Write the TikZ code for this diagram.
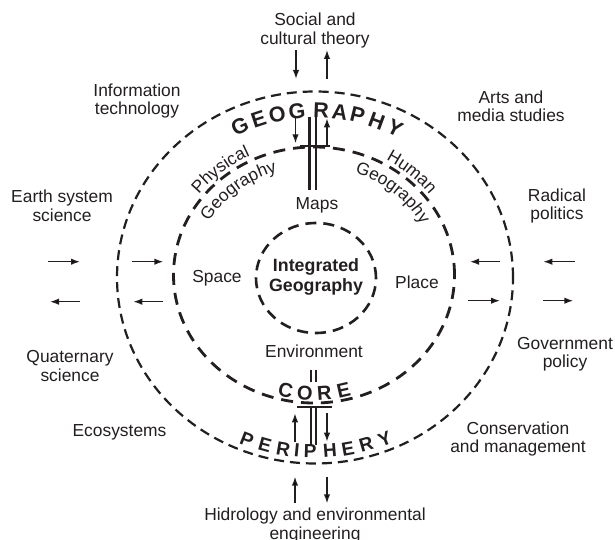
\documentclass[tikz,border=0pt]{standalone}
\usepackage{fontspec}
\setmainfont{Liberation Sans}
\usetikzlibrary{calc,arrows.meta,decorations.text}
\definecolor{ink}{HTML}{231F20}
\begin{document}
\begin{tikzpicture}[x=1pt,y=1pt,
  every node/.style={inner sep=0pt},
  lbl/.style={font=\fontsize{17.4}{18.5}\selectfont, text=ink, align=center},
  hub/.style={font=\bfseries\fontsize{17.8}{20}\selectfont, text=ink, align=center},
  ringletter/.style={font=\bfseries\fontsize{#1}{#1}\selectfont, text=ink},
  outerring/.style={draw=ink, line width=2.2pt, dash pattern=on 10pt off 6pt},
  corering/.style={draw=ink, line width=2.8pt, dash pattern=on 12pt off 8pt},
  hubring/.style={draw=ink, line width=2.6pt, dash pattern=on 11pt off 7pt},
  flow/.style={draw=ink, line width=1.4pt, -{Latex[length=9pt,width=6.5pt]}},
  link/.style={draw=ink, line width=2.4pt},
  bar/.style={draw=ink, line width=2.8pt},
]
\useasboundingbox[fill=white] (0,0) rectangle (615,540);

% centres of the three rings
\coordinate (Co) at (315,262.5);
\coordinate (Ci) at (314,265);
\coordinate (Cc) at (316,262);

% rings
\path[outerring] (Co) ellipse [x radius=198pt, y radius=186pt];
\path[corering]  (Ci) ellipse [x radius=140.5pt, y radius=128pt];
\path[hubring]   (Cc) ellipse [x radius=60pt, y radius=55pt];

% lettering on the rings
\foreach \a/\l [count=\i] in {114.8/G,108.4/E,102.2/O,95.8/G,88/R,82/A,76.2/P,69.8/H,63.4/Y}
  \node[ringletter=21.5, rotate=\a-90] (geo\i) at ($(Co)+(\a:179pt and 167pt)$) {\l};
\foreach \a/\l [count=\i] in {248.5/P,254.4/E,260.2/R,264.4/I,268.5/P,274.6/H,280.2/E,286/R,292/Y}
  \node[ringletter=19, rotate=\a+90] (per\i) at ($(Co)+(\a:186pt and 174pt)$) {\l};
\foreach \a/\l [count=\i] in {257.5/C,266/O,274.5/R,283/E}
  \node[ringletter=20, rotate=\a+90] (core\i) at ($(Ci)+(\a:131pt and 118.5pt)$) {\l};

% curved sub-discipline labels straddling the core ring
\path[decorate, decoration={text along path, text align=center, text color=ink,
    text={|\fontsize{17.4}{18}\selectfont|Physical}}]
  ($(Ci)+(165:145pt and 132.5pt)$) arc[start angle=165, end angle=95, x radius=145pt, y radius=132.5pt];
\path[decorate, decoration={text along path, text align=center, text color=ink,
    text={|\fontsize{17.4}{18}\selectfont|Geography}}]
  ($(Ci)+(172:121pt and 108.5pt)$) arc[start angle=172, end angle=88, x radius=121pt, y radius=108.5pt];
\path[decorate, decoration={text along path, text align=center, text color=ink,
    text={|\fontsize{17.4}{18}\selectfont|Human}}]
  ($(Ci)+(83:145pt and 132.5pt)$) arc[start angle=83, end angle=13, x radius=145pt, y radius=132.5pt];
\path[decorate, decoration={text along path, text align=center, text color=ink,
    text={|\fontsize{17.4}{18}\selectfont|Geography}}]
  ($(Ci)+(90:121pt and 108.5pt)$) arc[start angle=90, end angle=6, x radius=121pt, y radius=108.5pt];

% inner labels
\node[hub] (integ) at (316,263) {Integrated\\Geography};
\node[lbl] (maps)  at (317,335) {Maps};
\node[lbl] (space) at (217,262) {Space};
\node[lbl] (place) at (417,258) {Place};
\node[lbl] (env)   at (314,189) {Environment};

% outer labels
\node[lbl] (social) at (315,509.5) {Social and\\cultural theory};
\node[lbl] (info)   at (137,439)   {Information\\technology};
\node[lbl] (arts)   at (511,433.5) {Arts and\\media studies};
\node[lbl] (earth)  at (62,334)    {Earth system\\science};
\node[lbl] (radical) at (557,334)  {Radical\\politics};
\node[lbl] (quat)   at (70,174)    {Quaternary\\science};
\node[lbl] (gov)    at (565,186)   {Government\\policy};
\node[lbl] (eco)    at (119.5,108) {Ecosystems};
\node[lbl] (cons)   at (518,101)   {Conservation\\and management};
\node[lbl] (hidro)  at (315,14.5)  {Hidrology and environmental\\engineering};

% links between the centre, the core and the periphery
\path[link] (309.3,423.3) -- (309.3,350);
\path[link] (315.7,423.3) -- (315.7,350);
\path[bar]  (300,394) -- (330,394);
\path[link] (310.7,170) -- (310.7,158.3);
\path[link] (315.7,170) -- (315.7,158.3);
\path[bar]  (297,133) -- (332,133);
\path[link] (310.7,133) -- (310.7,95);
\path[link] (315.7,133) -- (315.7,95);

% exchanges across the rings
\path[flow] (296,490) -- (296,461);
\path[flow] (327,461) -- (327,490);
\path[flow] (295.5,423) -- (295.5,396.7);
\path[flow] (327,394.7) -- (327,421.7);
\path[flow] (295,98.3) -- (295,126.7);
\path[flow] (327,126.7) -- (327,98.3);
\path[flow] (295,36.7) -- (295,63.3);
\path[flow] (327,63.3) -- (327,36.7);

\path[flow] (48.3,278.3) -- (80,278.3);
\path[flow] (80,238.3) -- (50,238.3);
\path[flow] (131.7,278.3) -- (163.3,278.3);
\path[flow] (163.3,238.3) -- (133.3,238.3);
\path[flow] (500,278.3) -- (470,278.3);
\path[flow] (575,278.3) -- (543.3,278.3);
\path[flow] (468.3,239.3) -- (500,239.3);
\path[flow] (543.3,239.3) -- (573.3,239.3);
\end{tikzpicture}
\end{document}
